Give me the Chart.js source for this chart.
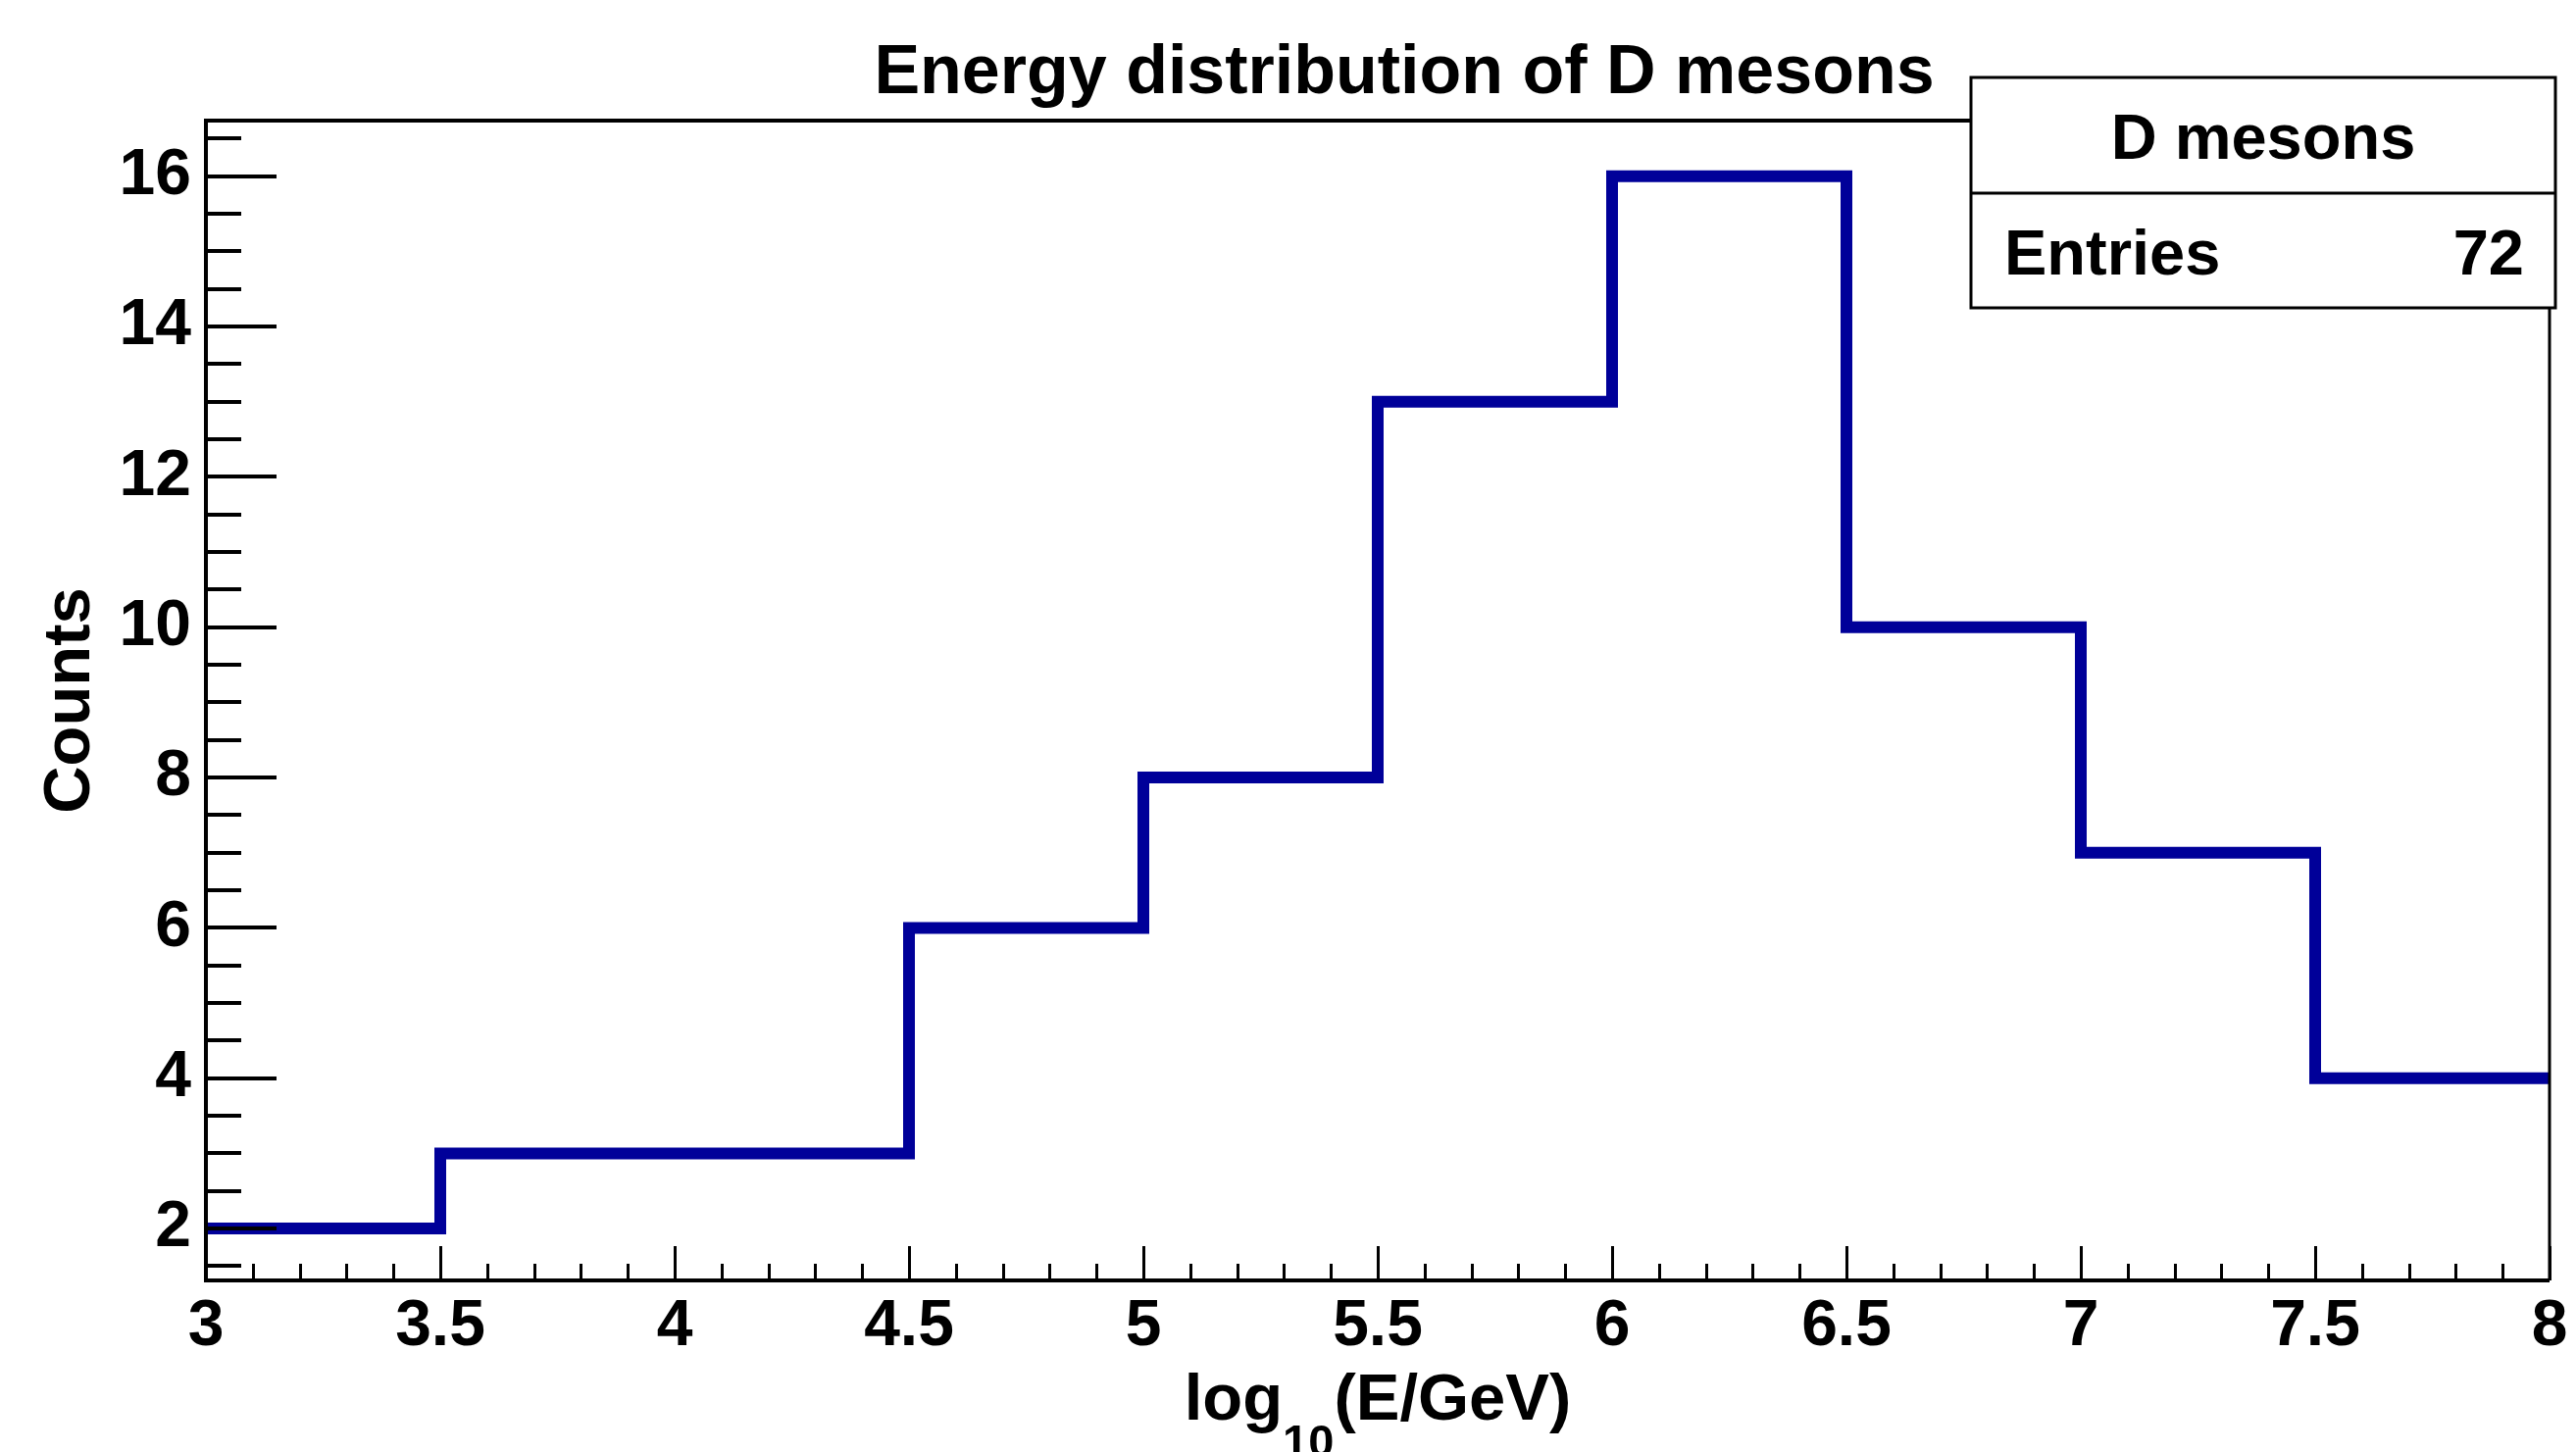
<!DOCTYPE html>
<html>
<head>
<meta charset="utf-8">
<script src="https://cdn.jsdelivr.net/npm/chart.js@4.4.1/dist/chart.umd.min.js"></script>
<style>
  html, body { margin: 0; padding: 0; background: #fff; }
  #wrap { width: 2627px; height: 1481px; }
</style>
</head>
<body>
<div id="wrap"><canvas id="hist" width="2627" height="1481"></canvas></div>
<script>
// histogram data
const binEdges = [3, 3.5, 4, 4.5, 5, 5.5, 6, 6.5, 7, 7.5, 8];
const counts = [2, 3, 3, 6, 8, 13, 16, 10, 7, 4];
const xTickValues = [3, 3.5, 4, 4.5, 5, 5.5, 6, 6.5, 7, 7.5, 8];
const xTickLabels = ['3', '3.5', '4', '4.5', '5', '5.5', '6', '6.5', '7', '7.5', '8'];
const yTickValues = [2, 4, 6, 8, 10, 12, 14, 16];
const yTickLabels = ['2', '4', '6', '8', '10', '12', '14', '16'];
const chartTitle = 'Energy distribution of D mesons';
const statsName = 'D mesons';
const statsEntries = 72;

const FONT = '"Liberation Sans", Arial, Helvetica, sans-serif';
const histColor = '#000099';

// one point per bin edge, last bin value repeated at the right edge
const stepPoints = binEdges.map((x, i) => ({ x: x, y: counts[Math.min(i, counts.length - 1)] }));

// ROOT-like frame, inner ticks, titles and stats box
const rootStyle = {
    id: 'rootStyle',
    afterDatasetsDraw(chart) {
        const ctx = chart.ctx;
        const xs = chart.scales.x, ys = chart.scales.y;
        const a = chart.chartArea;
        ctx.save();
        ctx.strokeStyle = '#000';
        ctx.fillStyle = '#000';

        // x ticks (major 0.5, minor 0.1)
        ctx.lineWidth = 3;
        ctx.beginPath();
        for (let i = Math.round(xs.min * 10); i <= Math.round(xs.max * 10); i++) {
            const px = Math.round(xs.getPixelForValue(i / 10)) + 0.5;
            const len = (i % 5 === 0) ? 35 : 17;
            ctx.moveTo(px, a.bottom);
            ctx.lineTo(px, a.bottom - len);
        }
        ctx.stroke();
        // y ticks (major 2, minor 0.5)
        ctx.lineWidth = 4;
        ctx.beginPath();
        for (let v = Math.ceil(ys.min * 2) / 2; v <= ys.max; v += 0.5) {
            const py = Math.round(ys.getPixelForValue(v));
            const len = (v % 2 === 0) ? 72 : 36;
            ctx.moveTo(a.left, py);
            ctx.lineTo(a.left + len, py);
        }
        ctx.stroke();

        // frame
        ctx.lineWidth = 4;
        ctx.beginPath();
        ctx.moveTo(a.right, a.bottom);
        ctx.lineTo(a.left, a.bottom);
        ctx.lineTo(a.left, a.top);
        ctx.lineTo(a.right, a.top);
        ctx.stroke();
        ctx.lineWidth = 3;
        ctx.beginPath();
        ctx.moveTo(a.right, a.top);
        ctx.lineTo(a.right, a.bottom);
        ctx.stroke();

        // title
        ctx.font = 'bold 70px ' + FONT;
        ctx.textAlign = 'center';
        ctx.textBaseline = 'alphabetic';
        ctx.fillText(chartTitle, 1432, 95);

        // y axis title
        ctx.save();
        ctx.translate(91, (a.top + a.bottom) / 2);
        ctx.rotate(-Math.PI / 2);
        ctx.font = 'bold 67px ' + FONT;
        ctx.textAlign = 'center';
        ctx.fillText('Counts', 0, 0);
        ctx.restore();

        // x axis title with subscript
        const big = 'bold 67px ' + FONT, small = 'bold 47px ' + FONT;
        ctx.textAlign = 'left';
        ctx.font = big;
        const w1 = ctx.measureText('log').width;
        const w3 = ctx.measureText('(E/GeV)').width;
        ctx.font = small;
        const w2 = ctx.measureText('10').width;
        let tx = (a.left + a.right) / 2 - (w1 + w2 + w3) / 2;
        const base = 1448;
        ctx.font = big;
        ctx.fillText('log', tx, base);
        ctx.font = small;
        ctx.fillText('10', tx + w1, base + 38);
        ctx.font = big;
        ctx.fillText('(E/GeV)', tx + w1 + w2, base);

        // stats box
        const bx = 2010, by = 79, bw = 596, bh = 235, div = 197;
        ctx.fillStyle = '#fff';
        ctx.fillRect(bx, by, bw, bh);
        ctx.lineWidth = 3;
        ctx.strokeRect(bx, by, bw, bh);
        ctx.beginPath();
        ctx.moveTo(bx, div);
        ctx.lineTo(bx + bw, div);
        ctx.stroke();
        ctx.fillStyle = '#000';
        ctx.font = 'bold 65px ' + FONT;
        ctx.textAlign = 'center';
        ctx.fillText(statsName, bx + bw / 2, 162);
        ctx.textAlign = 'left';
        ctx.fillText('Entries', 2044, 280);
        ctx.textAlign = 'right';
        ctx.fillText(String(statsEntries), 2574, 280);

        ctx.restore();
    }
};

const ctx = document.getElementById('hist').getContext('2d');
new Chart(ctx, {
    type: 'line',
    data: {
        datasets: [{
            label: statsName,
            data: stepPoints,
            stepped: 'before',
            borderColor: histColor,
            borderWidth: 12,
            borderJoinStyle: 'miter',
            pointRadius: 0,
            fill: false
        }]
    },
    options: {
        responsive: false,
        animation: false,
        layout: { padding: { left: 0, right: 27, top: 123, bottom: 0 } },
        plugins: {
            legend: { display: false },
            tooltip: { enabled: false },
            title: { display: false }
        },
        scales: {
            x: {
                type: 'linear',
                min: 3,
                max: 8,
                afterFit: (scale) => { scale.height = 175; },
                afterBuildTicks: (scale) => { scale.ticks = xTickValues.map(v => ({ value: v })); },
                grid: { display: false, drawTicks: false },
                border: { display: false },
                ticks: {
                    autoSkip: false,
                    maxRotation: 0,
                    padding: 8,
                    color: '#000',
                    font: { family: FONT, size: 66, weight: 'bold' },
                    callback: (v) => xTickLabels[xTickValues.indexOf(v)]
                }
            },
            y: {
                type: 'linear',
                min: 1.31,
                max: 16.74,
                afterFit: (scale) => { scale.width = 210; },
                afterBuildTicks: (scale) => { scale.ticks = yTickValues.map(v => ({ value: v })); },
                grid: { display: false, drawTicks: false },
                border: { display: false },
                ticks: {
                    autoSkip: false,
                    padding: 15,
                    color: '#000',
                    font: { family: FONT, size: 66, weight: 'bold' },
                    callback: (v) => yTickLabels[yTickValues.indexOf(v)]
                }
            }
        }
    },
    plugins: [rootStyle]
});
</script>
</body>
</html>
